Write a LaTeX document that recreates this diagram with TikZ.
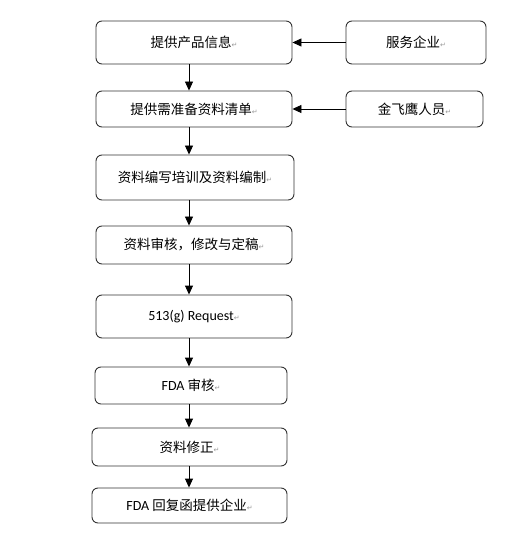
\documentclass[tikz,border=0pt]{standalone}
\usepackage{fontspec}
\setmainfont{Carlito}
\newfontfamily\cjk{Noto Sans CJK SC}
\newfontfamily\symf{DejaVu Sans}
\usepackage{tikz}
\usetikzlibrary{arrows.meta}

\newcommand{\retm}{{\symf\fontsize{7}{7}\selectfont\color{black!40}↵}}

\tikzset{
  stepbox/.style={draw=black!80,line width=0.9pt,rounded corners=6pt,
    inner sep=0pt,font=\cjk\fontsize{13.5}{16}\selectfont},
  arr/.style={-{Triangle[length=9pt,width=8pt]},line width=0.9pt,draw=black}
}

\begin{document}
\begin{tikzpicture}[x=1pt,y=-1pt]
    \useasboundingbox (0,0) rectangle (509,534);
    \node[stepbox,minimum width=196pt,minimum height=43pt] (info) at (194,42.5) {提供产品信息\retm};
    \node[stepbox,minimum width=140pt,minimum height=43pt] (firm) at (416,42.5) {服务企业\retm};
    \node[stepbox,minimum width=196pt,minimum height=36pt] (list) at (194,109) {提供需准备资料清单\retm};
    \node[stepbox,minimum width=137pt,minimum height=36pt] (staff) at (414.5,109) {金飞鹰人员\retm};
    \node[stepbox,minimum width=198pt,minimum height=45pt] (train) at (195,177.5) {资料编写培训及资料编制\retm};
    \node[stepbox,minimum width=196pt,minimum height=38pt] (check) at (194,245) {资料审核，修改与定稿\retm};
    \node[stepbox,minimum width=196pt,minimum height=43pt] (req) at (194,316.5) {{\rmfamily\fontsize{14}{16}\selectfont 513(g) Request}\retm};
    \node[stepbox,minimum width=192pt,minimum height=37pt] (fda) at (191,385.5) {{\rmfamily\fontsize{14}{16}\selectfont FDA} 审核\retm};
    \node[stepbox,minimum width=195pt,minimum height=38pt] (fix) at (189.5,447) {资料修正\retm};
    \node[stepbox,minimum width=195pt,minimum height=35pt] (reply) at (189.5,505.5) {{\rmfamily\fontsize{14}{16}\selectfont FDA} 回复函提供企业\retm};
    \coordinate (ax) at (189,0);

    % side inputs
    \draw[arr] (firm) -- (info);
    \draw[arr] (staff) -- (list);

    % main chain
    \foreach \a/\b in {info/list,list/train,train/check,check/req,req/fda,fda/fix,fix/reply}
        \draw[arr] (\a.south -| ax) -- (\b.north -| ax);
\end{tikzpicture}
\end{document}
